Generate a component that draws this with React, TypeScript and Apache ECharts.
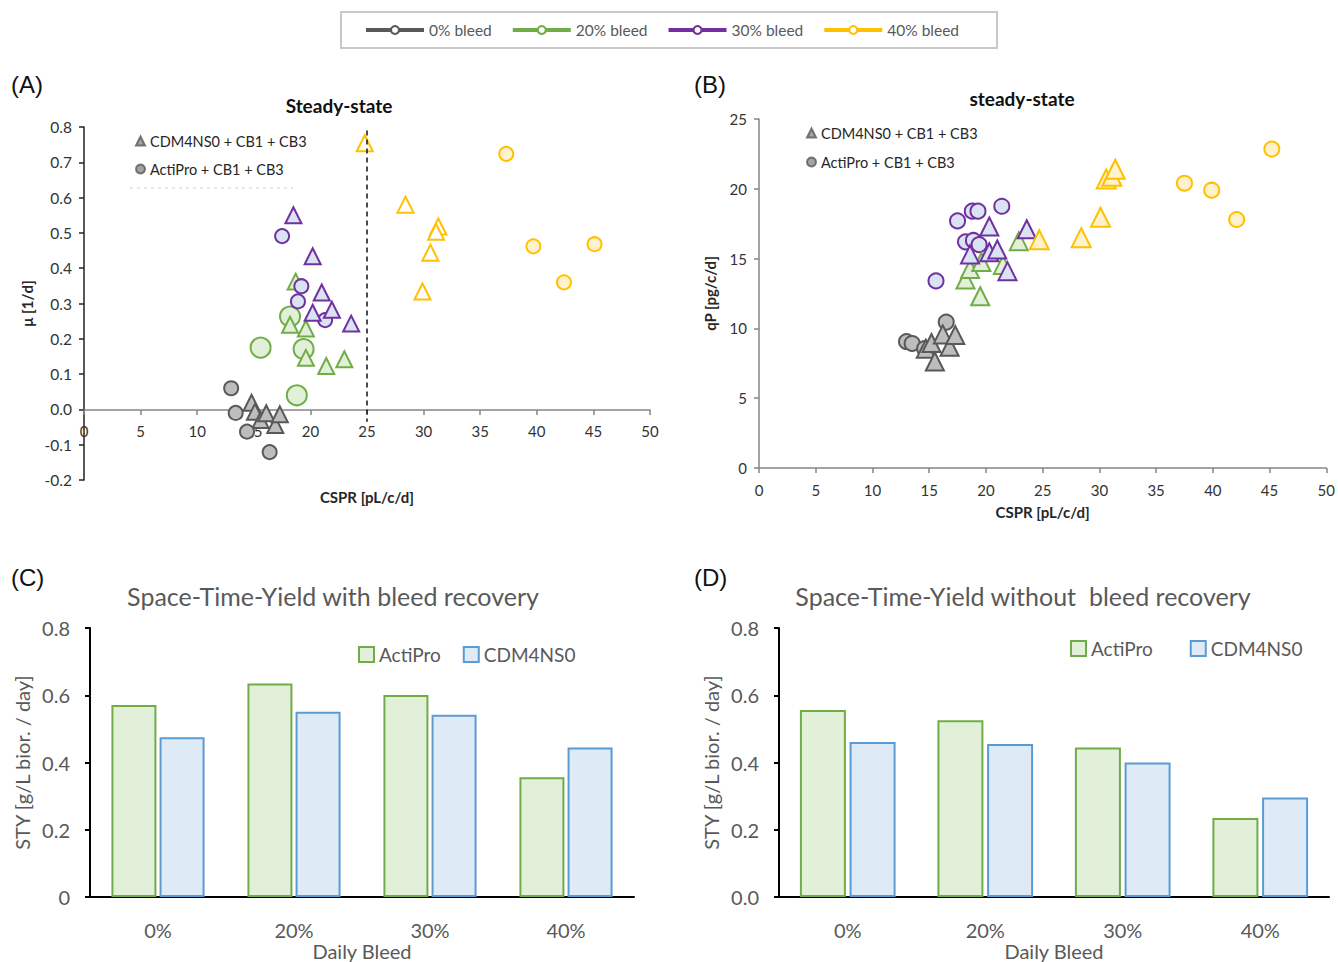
import React, { useEffect, useRef } from 'react';
import * as echarts from 'echarts';

const FONT = 'Lato, "Open Sans", sans-serif';

// ---------- Panel A: CSPR [pL/c/d] vs μ [1/d] ----------
const A_GRAY_TRI = [[14.8, 0.019], [15.1, -0.007], [15.6, -0.03], [16.1, -0.011], [16.9, -0.044], [17.3, -0.014]];
const A_GRAY_CIR = [[13.0, 0.06], [13.4, -0.01], [14.4, -0.063], [16.4, -0.121]];
const A_GREEN_TRI = [[18.7, 0.362], [18.2, 0.24], [19.6, 0.229], [19.6, 0.146], [21.4, 0.123], [23.0, 0.142]];
const A_GREEN_CIR = [[15.6, 0.175], [18.2, 0.263], [19.4, 0.171], [18.8, 0.04]];
const A_PURPLE_TRI = [[18.5, 0.55], [20.2, 0.434], [21.0, 0.331], [20.2, 0.274], [21.9, 0.282], [23.6, 0.243]];
const A_PURPLE_CIR = [[17.5, 0.491], [19.2, 0.349], [18.9, 0.306], [21.3, 0.253]];
const A_YELLOW_TRI = [[24.8, 0.754], [28.4, 0.58], [31.3, 0.518], [31.1, 0.503], [30.6, 0.444], [29.9, 0.334]];
const A_YELLOW_CIR = [[37.3, 0.724], [39.7, 0.462], [45.1, 0.468], [42.4, 0.36]];

// ---------- Panel B: CSPR [pL/c/d] vs qP [pg/c/d] ----------
const B_GRAY_TRI = [[14.7, 8.54], [15.2, 8.95], [15.5, 7.63], [16.2, 9.57], [16.8, 8.69], [17.3, 9.52]];
const B_GRAY_CIR = [[13.0, 9.06], [13.5, 8.92], [14.6, 8.55], [16.5, 10.45]];
const B_GREEN_TRI = [[18.2, 13.5], [18.6, 14.25], [19.6, 14.75], [19.5, 12.3], [21.5, 14.55], [22.9, 16.25]];
const B_PURPLE_TRI = [[18.6, 15.3], [20.3, 17.3], [20.3, 15.45], [21.0, 15.65], [21.9, 14.1], [23.6, 17.1]];
const B_PURPLE_CIR = [[15.6, 13.4], [17.5, 17.7], [18.2, 16.2], [18.8, 18.4], [19.3, 18.4], [18.9, 16.3], [19.4, 16.0], [21.4, 18.75]];
const B_YELLOW_TRI = [[24.7, 16.35], [28.4, 16.5], [30.1, 17.96], [30.6, 20.7], [31.1, 20.9], [31.4, 21.4]];
const B_YELLOW_CIR = [[37.5, 20.4], [39.9, 19.9], [42.1, 17.8], [45.2, 22.85]];

const STEADY_CSPR = 25;

// ---------- Panels C / D: Space-Time-Yield ----------
const BLEED_CATS = ['0%', '20%', '30%', '40%'];
const C_ACTIPRO = [0.571, 0.635, 0.601, 0.356];
const C_CDM4NS0 = [0.475, 0.551, 0.542, 0.445];
const D_ACTIPRO = [0.556, 0.526, 0.445, 0.235];
const D_CDM4NS0 = [0.461, 0.455, 0.4, 0.296];

const BLEED_NAMES = ['0% bleed', '20% bleed', '30% bleed', '40% bleed'];
const MEDIA_NAMES = ['CDM4NS0 + CB1 + CB3', 'ActiPro + CB1 + CB3'];

const C = {
  gray: { b: '#595959', f: '#bdbdbd' },
  green: { b: '#70ad47', f: '#e2efd9' },
  purple: { b: '#7030a0', f: '#dae3f3' },
  yellow: { b: '#ffc000', f: '#fff2cc' },
};
const BLEED_COLORS = ['#595959', '#70ad47', '#7030a0', '#ffc000'];

function sc(name: string, data: number[][], g: number, symbol: string, size: number, border: string, fill: string, z = 3) {
  return {
    type: 'scatter', name, xAxisIndex: g, yAxisIndex: g, data, symbol, symbolSize: size, z,
    itemStyle: { color: fill, borderColor: border, borderWidth: 2, opacity: 1 },
    silent: true,
  };
}

function valueAxis(g: number, extra: any) {
  return {
    type: 'value', gridIndex: g, splitLine: { show: false },
    axisLine: { show: true, onZero: false, lineStyle: { color: '#868686', width: 1.5 } },
    axisTick: { show: true, length: 5, lineStyle: { color: '#868686', width: 1.5 } },
    axisLabel: { fontSize: 15, color: '#333', fontFamily: FONT },
    nameTextStyle: { fontSize: 15, fontWeight: 'bold', color: '#262626', fontFamily: FONT },
    nameLocation: 'middle',
    ...extra,
  };
}

function barAxes(g: number, zeroLabel: string) {
  return {
    x: {
      type: 'category', gridIndex: g, data: BLEED_CATS,
      axisLine: { show: true, lineStyle: { color: '#000', width: 2 } },
      axisTick: { show: false },
      axisLabel: { fontSize: 20, color: '#595959', fontFamily: FONT, margin: 23 },
      name: 'Daily Bleed', nameLocation: 'middle', nameGap: 39,
      nameTextStyle: { fontSize: 20, color: '#595959', fontFamily: FONT },
    },
    y: {
      type: 'value', gridIndex: g, min: 0, max: 0.8, interval: 0.2, splitLine: { show: false },
      axisLine: { show: true, lineStyle: { color: '#000', width: 2 } },
      axisTick: { show: true, length: 5, lineStyle: { color: '#000', width: 2 } },
      axisLabel: { fontSize: 20, color: '#595959', fontFamily: FONT, margin: 20, formatter: (v: number) => (v === 0 ? zeroLabel : v.toFixed(1)) },
      name: 'STY [g/L bior. / day]', nameLocation: 'middle', nameGap: 58, nameRotate: 90,
      nameTextStyle: { fontSize: 20, color: '#595959', fontFamily: FONT },
    },
  };
}

export default function App() {
  const ref = useRef<HTMLDivElement>(null);
  useEffect(() => {
    document.body.style.margin = '0';
    const chart = echarts.init(ref.current!, null, { renderer: 'svg' });
    const titleBase = { fontFamily: FONT, fontWeight: 'normal', color: '#595959' };
    const panelLbl = { fontFamily: '"Liberation Sans", Arial, sans-serif', fontSize: 24, fontWeight: 'normal', color: '#111' };
    const cAx = barAxes(2, '0');
    const dAx = barAxes(3, '0.0');

    const option: any = {
      animation: false,
      backgroundColor: '#fff',
      textStyle: { fontFamily: FONT },
      title: [
        { text: '(A)', left: 6, top: 67, textStyle: panelLbl },
        { text: '(B)', left: 689, top: 67, textStyle: panelLbl },
        { text: '(C)', left: 6, top: 560, textStyle: panelLbl },
        { text: '(D)', left: 689, top: 560, textStyle: panelLbl },
        { text: 'Steady-state', left: 334, top: 91, textAlign: 'center', textStyle: { fontFamily: FONT, fontSize: 19, fontWeight: 'bold', color: '#111' } },
        { text: 'steady-state', left: 1017, top: 84, textAlign: 'center', textStyle: { fontFamily: FONT, fontSize: 19, fontWeight: 'bold', color: '#111' } },
        { text: 'Space-Time-Yield with bleed recovery', left: 328, top: 578, textAlign: 'center', textStyle: { ...titleBase, fontSize: 25 } },
        { text: 'Space-Time-Yield without  bleed recovery', left: 1018, top: 578, textAlign: 'center', textStyle: { ...titleBase, fontSize: 25 } },
      ],
      legend: [
        {
          data: BLEED_NAMES, left: 341, top: 12, orient: 'horizontal', selectedMode: false,
          borderColor: '#c8c8c8', borderWidth: 2, padding: [10, 38, 10, 23], itemGap: 19,
          itemWidth: 58, itemHeight: 10,
          lineStyle: { width: 4 },
          textStyle: { fontSize: 15.5, color: '#595959', fontFamily: FONT },
        },
        {
          data: MEDIA_NAMES, left: 135, top: 133, orient: 'vertical', selectedMode: false, padding: 0,
          itemWidth: 9, itemHeight: 9, itemGap: 12,
          textStyle: { fontSize: 14.5, color: '#262626', fontFamily: FONT, lineHeight: 16 },
        },
        {
          data: MEDIA_NAMES, left: 806, top: 125, orient: 'vertical', selectedMode: false, padding: 0,
          itemWidth: 9, itemHeight: 9, itemGap: 13,
          textStyle: { fontSize: 14.5, color: '#262626', fontFamily: FONT, lineHeight: 16 },
        },
        {
          data: ['ActiPro', 'CDM4NS0'], left: 358, top: 645, selectedMode: false, padding: 0,
          itemWidth: 15, itemHeight: 15, itemGap: 22, icon: 'rect',
          textStyle: { fontSize: 19, color: '#595959', fontFamily: FONT },
        },
        {
          data: ['ActiPro', 'CDM4NS0'], left: 1070, top: 639, selectedMode: false, padding: 0,
          itemWidth: 15, itemHeight: 15, itemGap: 37, icon: 'rect',
          textStyle: { fontSize: 19, color: '#595959', fontFamily: FONT },
        },
      ],
      grid: [
        { left: 84, top: 127, width: 566, height: 353 },
        { left: 759, top: 119, width: 569, height: 349 },
        { left: 90, top: 628, width: 544, height: 275 },
        { left: 779, top: 628, width: 550, height: 275 },
      ],
      xAxis: [
        valueAxis(0, {
          min: 0, max: 50, interval: 5, name: 'CSPR [pL/c/d]', nameGap: 79,
          offset: -70,
          axisLabel: { fontSize: 15, color: '#333', fontFamily: FONT, margin: 13 },
        }),
        valueAxis(1, {
          min: 0, max: 50, interval: 5, name: 'CSPR [pL/c/d]', nameGap: 36,
          axisLabel: { fontSize: 15, color: '#333', fontFamily: FONT, margin: 14 },
        }),
        cAx.x,
        dAx.x,
      ],
      yAxis: [
        valueAxis(0, {
          min: -0.2, max: 0.8, interval: 0.1, name: 'μ [1/d]', nameGap: 50, nameRotate: 90,
          axisLine: { show: true, onZero: false, lineStyle: { color: '#222', width: 1.5 } },
          axisTick: { show: true, length: 5, lineStyle: { color: '#222', width: 1.5 } },
          axisLabel: { fontSize: 15.5, color: '#333', fontFamily: FONT, margin: 12, formatter: (v: number) => v.toFixed(1) },
        }),
        valueAxis(1, {
          min: 0, max: 25, interval: 5, name: 'qP [pg/c/d]', nameGap: 42, nameRotate: 90,
          axisLabel: { fontSize: 15, color: '#333', fontFamily: FONT, margin: 12 },
        }),
        cAx.y,
        dAx.y,
      ],
      graphic: [
        { type: 'line', shape: { x1: 130, y1: 188, x2: 293, y2: 188 }, style: { stroke: '#cfcfcf', lineWidth: 1, lineDash: [3, 4] }, silent: true },
      ],
      series: [
        // legend-only series
        ...BLEED_NAMES.map((n, i) => ({
          type: 'line', name: n, xAxisIndex: 0, yAxisIndex: 0, data: [],
          symbol: 'emptyCircle', symbolSize: 8,
          lineStyle: { color: BLEED_COLORS[i], width: 4 }, itemStyle: { color: BLEED_COLORS[i] },
        })),
        { type: 'scatter', name: MEDIA_NAMES[0], xAxisIndex: 0, yAxisIndex: 0, data: [], symbol: 'triangle', itemStyle: { color: '#8c8c8c', borderColor: '#595959', borderWidth: 1 } },
        { type: 'scatter', name: MEDIA_NAMES[1], xAxisIndex: 0, yAxisIndex: 0, data: [], symbol: 'circle', itemStyle: { color: '#8c8c8c', borderColor: '#595959', borderWidth: 1 } },
        // dashed steady-state lines
        {
          type: 'scatter', name: 'ssA', xAxisIndex: 0, yAxisIndex: 0, data: [], clip: false,
          markLine: {
            silent: true, symbol: 'none', label: { show: false },
            lineStyle: { color: '#111', type: [5, 4], width: 1.5 },
            data: [[{ coord: [STEADY_CSPR, 0.79] }, { coord: [STEADY_CSPR, -0.035] }]],
          },
        },
        {
          type: 'scatter', name: 'ssB', xAxisIndex: 1, yAxisIndex: 1, data: [], clip: false,
          markLine: {
            silent: true, symbol: 'none', label: { show: false },
            lineStyle: { color: '#111', type: [5, 4], width: 1.5 },
            data: [[{ coord: [STEADY_CSPR, 25.2] }, { coord: [STEADY_CSPR, -0.35] }]],
          },
        },
        // Panel A
        sc('aGT', A_GRAY_TRI, 0, 'triangle', 16, C.gray.b, C.gray.f),
        sc('aGC', A_GRAY_CIR, 0, 'circle', 14, C.gray.b, C.gray.f),
        sc('aGrC', A_GREEN_CIR, 0, 'circle', 20, C.green.b, C.green.f),
        sc('aGrT', A_GREEN_TRI, 0, 'triangle', 16, C.green.b, C.green.f),
        sc('aPC', A_PURPLE_CIR, 0, 'circle', 14, C.purple.b, C.purple.f),
        sc('aPT', A_PURPLE_TRI, 0, 'triangle', 16, C.purple.b, C.purple.f),
        sc('aYT', A_YELLOW_TRI, 0, 'triangle', 16, C.yellow.b, '#ffffff'),
        sc('aYC', A_YELLOW_CIR, 0, 'circle', 14, C.yellow.b, C.yellow.f),
        // Panel B
        sc('bGC', B_GRAY_CIR, 1, 'circle', 15, C.gray.b, C.gray.f),
        sc('bGT', B_GRAY_TRI, 1, 'triangle', 18, C.gray.b, C.gray.f),
        sc('bPC', B_PURPLE_CIR, 1, 'circle', 15, C.purple.b, C.purple.f),
        sc('bGrT', B_GREEN_TRI, 1, 'triangle', 18, C.green.b, C.green.f),
        sc('bPT', B_PURPLE_TRI, 1, 'triangle', 18, C.purple.b, C.purple.f),
        sc('bYT', B_YELLOW_TRI, 1, 'triangle', 19, C.yellow.b, C.yellow.f),
        sc('bYC', B_YELLOW_CIR, 1, 'circle', 15, C.yellow.b, C.yellow.f),
        // Panel C
        { type: 'bar', name: 'ActiPro', xAxisIndex: 2, yAxisIndex: 2, data: C_ACTIPRO, barWidth: 45, barGap: '7%', itemStyle: { color: '#e2efd9', borderColor: '#70ad47', borderWidth: 2 } },
        { type: 'bar', name: 'CDM4NS0', xAxisIndex: 2, yAxisIndex: 2, data: C_CDM4NS0, barWidth: 45, barGap: '7%', itemStyle: { color: '#deebf7', borderColor: '#5b9bd5', borderWidth: 2 } },
        // Panel D
        { type: 'bar', name: 'ActiPro', xAxisIndex: 3, yAxisIndex: 3, data: D_ACTIPRO, barWidth: 46, barGap: '8%', itemStyle: { color: '#e2efd9', borderColor: '#70ad47', borderWidth: 2 } },
        { type: 'bar', name: 'CDM4NS0', xAxisIndex: 3, yAxisIndex: 3, data: D_CDM4NS0, barWidth: 46, barGap: '8%', itemStyle: { color: '#deebf7', borderColor: '#5b9bd5', borderWidth: 2 } },
      ],
    };
    chart.setOption(option);
    return () => chart.dispose();
  }, []);
  return <div ref={ref} style={{ width: 1338, height: 962 }} />;
}
